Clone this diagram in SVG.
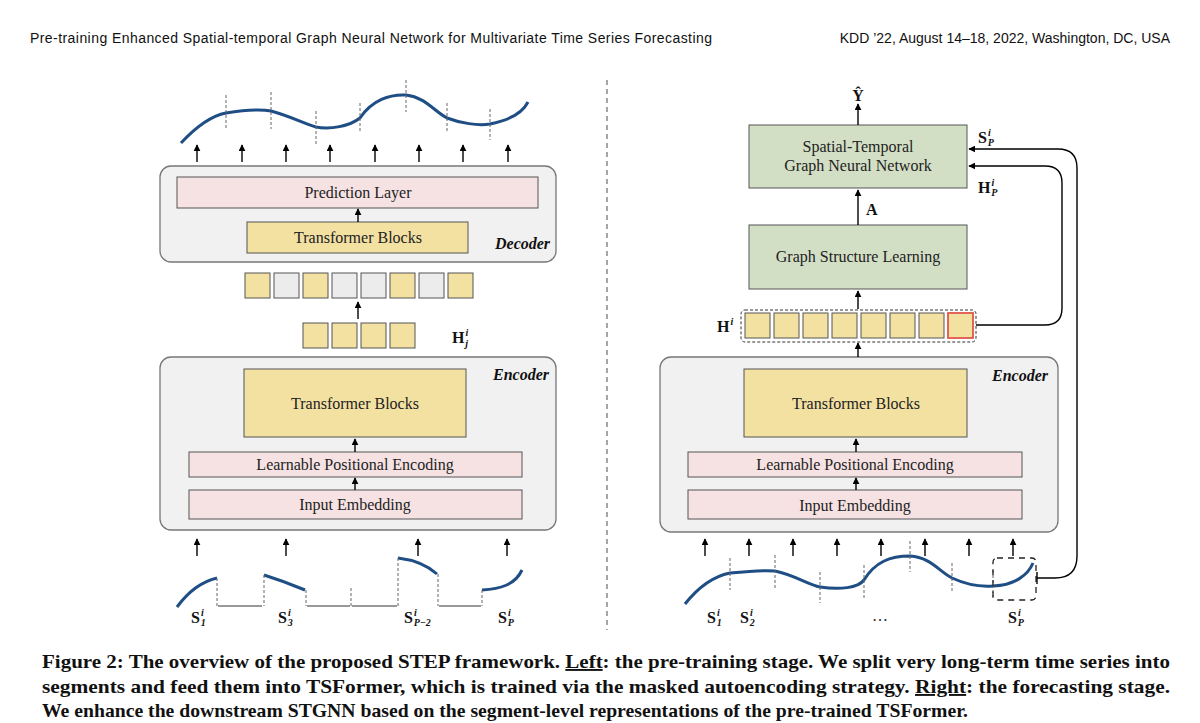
<svg xmlns="http://www.w3.org/2000/svg" width="1200" height="723" viewBox="0 0 1200 723">
<defs>
<marker id="ah" viewBox="0 0 10 10" refX="9" refY="5" markerWidth="7" markerHeight="7" markerUnits="userSpaceOnUse" orient="auto"><path d="M0,0 L10,5 L0,10 z" fill="#000"/></marker>
<style>
.t{font-family:"Liberation Serif","DejaVu Serif",serif;font-size:16px;fill:#222;text-anchor:middle}
.lab{font-family:"Liberation Serif","DejaVu Serif",serif;font-weight:bold;font-size:16px;fill:#111}
.sub{font-size:10px;font-style:italic}
.ed{font-family:"Liberation Serif",serif;font-weight:bold;font-style:italic;font-size:16px;fill:#111}
.hdr{font-family:"Liberation Sans","DejaVu Sans",sans-serif;font-size:14px;fill:#111}
.cap{font-family:"Liberation Serif","DejaVu Serif",serif;font-weight:bold;font-size:19px;fill:#111}
.outer{fill:#f1f1f1;stroke:#777;stroke-width:1.3}
.pink{fill:#f6e2e3;stroke:#555;stroke-width:1}
.yel{fill:#f3e1a2;stroke:#555;stroke-width:1}
.gry{fill:#ececec;stroke:#555;stroke-width:1}
.grn{fill:#d3dfc5;stroke:#555;stroke-width:1}
.ar{stroke:#000;stroke-width:1.4;fill:none;marker-end:url(#ah)}
.wave{fill:none;stroke:#1f4e85;stroke-width:3}
.vd{stroke:#666;stroke-width:1;stroke-dasharray:3,2}
.flat{stroke:#777;stroke-width:1.5}
</style>
</defs>
<text class="hdr" x="30" y="43" textLength="682">Pre-training Enhanced Spatial-temporal Graph Neural Network for Multivariate Time Series Forecasting</text>
<text class="hdr" x="1170" y="43" text-anchor="end">KDD ’22, August 14–18, 2022, Washington, DC, USA</text>
<line x1="607" y1="80" x2="607" y2="630" stroke="#777" stroke-dasharray="5,4" stroke-width="1.3"/>

<!-- LEFT -->
<g id="left-output-wave">
<path class="wave" d="M181,143 C195,128 210,116 226,113 C245,110 260,109 271,111 C290,116 305,124 316,127 C330,130 350,126 360,118 C372,100 390,94 406,95 C425,97 435,112 447,118 C460,123 478,126 490,124 C510,120 523,112 528,102"/>
<g class="vd"><line x1="226" y1="95" x2="226" y2="129"/><line x1="271" y1="92" x2="271" y2="129"/><line x1="316" y1="111" x2="316" y2="145"/><line x1="360" y1="103" x2="360" y2="133"/><line x1="406" y1="80" x2="406" y2="112"/><line x1="447" y1="103" x2="447" y2="133"/><line x1="490" y1="109" x2="490" y2="140"/></g>
</g>
<g id="left-decoder">
<rect class="outer" x="160" y="166" width="396" height="96" rx="11"/>
<rect class="pink" x="177" y="177" width="361" height="31"/>
<text class="t" x="358" y="198">Prediction Layer</text>
<rect class="yel" x="247" y="222" width="221" height="31"/>
<text class="t" x="358" y="243">Transformer Blocks</text>
<text class="ed" x="495" y="249">Decoder</text>
</g>
<g id="left-full-tokens">
<rect class="yel" x="245" y="273" width="25" height="25"/><rect class="gry" x="274" y="273" width="25" height="25"/><rect class="yel" x="303" y="273" width="25" height="25"/><rect class="gry" x="332" y="273" width="25" height="25"/><rect class="gry" x="361" y="273" width="25" height="25"/><rect class="yel" x="390" y="273" width="25" height="25"/><rect class="gry" x="419" y="273" width="25" height="25"/><rect class="yel" x="448" y="273" width="25" height="25"/>
</g>
<g id="left-Hj">
<rect class="yel" x="303" y="323" width="25" height="25"/><rect class="yel" x="332" y="323" width="25" height="25"/><rect class="yel" x="361" y="323" width="25" height="25"/><rect class="yel" x="390" y="323" width="25" height="25"/>
<text class="lab" x="452" y="343">H<tspan class="sub" dx="1" dy="-7">i</tspan><tspan class="sub" dx="-3" dy="11">j</tspan></text>
</g>
<g id="left-encoder">
<rect class="outer" x="160" y="357" width="396" height="173" rx="11"/>
<text class="ed" x="493" y="380">Encoder</text>
<rect class="yel" x="244" y="369" width="222" height="68"/>
<text class="t" x="355" y="409">Transformer Blocks</text>
<rect class="pink" x="189" y="452" width="333" height="25"/>
<text class="t" x="355" y="470">Learnable Positional Encoding</text>
<rect class="pink" x="189" y="490" width="333" height="29"/>
<text class="t" x="355" y="510">Input Embedding</text>
</g>
<g id="left-input-segments">
<path class="wave" d="M177,607 C188,592 200,582 217,578"/>
<path class="wave" d="M264,575 C280,580 293,585 305,590"/>
<path class="wave" d="M398,558 C415,560 428,566 437,574"/>
<path class="wave" d="M482,590 C500,589 515,585 522,570"/>
<g class="vd"><line x1="217" y1="578" x2="217" y2="606"/><line x1="264" y1="575" x2="264" y2="606"/><line x1="306" y1="590" x2="306" y2="606"/><line x1="351" y1="588" x2="351" y2="606"/><line x1="398" y1="558" x2="398" y2="606"/><line x1="438" y1="574" x2="438" y2="606"/><line x1="482" y1="590" x2="482" y2="606"/></g>
<g class="flat"><line x1="218" y1="606" x2="262" y2="606"/><line x1="307" y1="606" x2="350" y2="606"/><line x1="352" y1="606" x2="397" y2="606"/><line x1="439" y1="606" x2="481" y2="606"/></g>
<text class="lab" x="191" y="623">S<tspan class="sub" dx="1" dy="-7">i</tspan><tspan class="sub" dx="-3" dy="10">1</tspan></text>
<text class="lab" x="278" y="623">S<tspan class="sub" dx="1" dy="-7">i</tspan><tspan class="sub" dx="-3" dy="10">3</tspan></text>
<text class="lab" x="404" y="623">S<tspan class="sub" dx="1" dy="-7">i</tspan><tspan class="sub" dx="-3" dy="10">P−2</tspan></text>
<text class="lab" x="498" y="623">S<tspan class="sub" dx="1" dy="-7">i</tspan><tspan class="sub" dx="-3" dy="10">P</tspan></text>
</g>

<!-- RIGHT -->
<g id="right-stgnn">
<rect class="grn" x="749" y="125" width="218" height="63"/>
<text class="t" x="858" y="152">Spatial-Temporal</text>
<text class="t" x="858" y="171">Graph Neural Network</text>
</g>
<text class="lab" x="858" y="101" text-anchor="middle" font-size="18">Ŷ</text>
<g id="right-gsl">
<rect class="grn" x="749" y="225" width="218" height="64"/>
<text class="t" x="858" y="262">Graph Structure Learning</text>
</g>
<text class="lab" x="866" y="215">A</text>
<g id="right-Hi">
<rect x="741" y="310" width="235" height="32" rx="4" fill="none" stroke="#333" stroke-dasharray="3,2"/>
<rect class="yel" x="745" y="313" width="25" height="25"/><rect class="yel" x="774" y="313" width="25" height="25"/><rect class="yel" x="803" y="313" width="25" height="25"/><rect class="yel" x="832" y="313" width="25" height="25"/><rect class="yel" x="861" y="313" width="25" height="25"/><rect class="yel" x="890" y="313" width="25" height="25"/><rect class="yel" x="919" y="313" width="25" height="25"/><rect x="948" y="313" width="25" height="25" fill="#f3e1a2" stroke="#e0574a" stroke-width="1.8"/>
<text class="lab" x="717" y="332">H<tspan class="sub" dx="1" dy="-7">i</tspan></text>
</g>
<g id="right-encoder">
<rect class="outer" x="660" y="357" width="398" height="175" rx="11"/>
<text class="ed" x="992" y="381">Encoder</text>
<rect class="yel" x="744" y="369" width="223" height="68"/>
<text class="t" x="856" y="409">Transformer Blocks</text>
<rect class="pink" x="688" y="452" width="334" height="25"/>
<text class="t" x="855" y="470">Learnable Positional Encoding</text>
<rect class="pink" x="688" y="490" width="334" height="29"/>
<text class="t" x="855" y="511">Input Embedding</text>
</g>
<g id="right-input-wave">
<path class="wave" d="M685,604 C700,585 715,576 730,573 C750,571 765,570 775,571 C795,575 808,585 820,587 C840,590 858,588 864,580 C875,562 890,556 910,556 C930,557 940,572 952,578 C965,584 980,587 993,586 C1015,585 1028,575 1033,563"/>
<g class="vd"><line x1="730" y1="558" x2="730" y2="590"/><line x1="775" y1="555" x2="775" y2="590"/><line x1="820" y1="572" x2="820" y2="603"/><line x1="864" y1="565" x2="864" y2="598"/><line x1="910" y1="541" x2="910" y2="572"/><line x1="952" y1="563" x2="952" y2="593"/><line x1="993" y1="570" x2="993" y2="600"/></g>
<rect x="993" y="558" width="43" height="42" rx="4" fill="none" stroke="#222" stroke-width="1.3" stroke-dasharray="6,5"/>
<text class="lab" x="707" y="623">S<tspan class="sub" dx="1" dy="-7">i</tspan><tspan class="sub" dx="-3" dy="10">1</tspan></text>
<text class="lab" x="740" y="623">S<tspan class="sub" dx="1" dy="-7">i</tspan><tspan class="sub" dx="-3" dy="10">2</tspan></text>
<text class="t" x="880" y="621">…</text>
<text class="lab" x="1008" y="623">S<tspan class="sub" dx="1" dy="-7">i</tspan><tspan class="sub" dx="-3" dy="10">P</tspan></text>
</g>
<text class="lab" x="978" y="143">S<tspan class="sub" dx="1" dy="-7">i</tspan><tspan class="sub" dx="-3" dy="10">P</tspan></text>
<text class="lab" x="978" y="193">H<tspan class="sub" dx="1" dy="-7">i</tspan><tspan class="sub" dx="-3" dy="10">P</tspan></text>

<g id="connectors">
<!-- left output arrows -->
<line class="ar" x1="197" y1="162" x2="197" y2="145"/><line class="ar" x1="242" y1="162" x2="242" y2="145"/><line class="ar" x1="286" y1="162" x2="286" y2="145"/><line class="ar" x1="330" y1="162" x2="330" y2="145"/><line class="ar" x1="375" y1="162" x2="375" y2="145"/><line class="ar" x1="419" y1="162" x2="419" y2="145"/><line class="ar" x1="463" y1="162" x2="463" y2="145"/><line class="ar" x1="508" y1="162" x2="508" y2="145"/>
<line class="ar" x1="358" y1="222" x2="358" y2="209"/>
<line class="ar" x1="358" y1="319" x2="358" y2="302" stroke-width="2"/>
<line class="ar" x1="355" y1="452" x2="355" y2="439"/>
<line class="ar" x1="355" y1="490" x2="355" y2="478"/>
<line class="ar" x1="197" y1="556" x2="197" y2="539"/><line class="ar" x1="286" y1="556" x2="286" y2="539"/><line class="ar" x1="418" y1="556" x2="418" y2="539"/><line class="ar" x1="507" y1="556" x2="507" y2="539"/>
<!-- right -->
<line class="ar" x1="858" y1="125" x2="858" y2="104"/>
<line class="ar" x1="858" y1="225" x2="858" y2="190"/>
<line class="ar" x1="858" y1="309" x2="858" y2="291"/>
<line class="ar" x1="858" y1="357" x2="858" y2="343"/>
<line class="ar" x1="856" y1="452" x2="856" y2="439"/>
<line class="ar" x1="856" y1="490" x2="856" y2="478"/>
<line class="ar" x1="705" y1="556" x2="705" y2="539"/><line class="ar" x1="749" y1="556" x2="749" y2="539"/><line class="ar" x1="793" y1="556" x2="793" y2="539"/><line class="ar" x1="837" y1="556" x2="837" y2="539"/><line class="ar" x1="881" y1="556" x2="881" y2="539"/><line class="ar" x1="925" y1="556" x2="925" y2="539"/><line class="ar" x1="969" y1="556" x2="969" y2="539"/><line class="ar" x1="1013" y1="556" x2="1013" y2="539"/>
<path class="ar" d="M976,325 L1045,325 Q1062,325 1062,308 L1062,183 Q1062,166 1045,166 L969,166"/>
<path class="ar" d="M1037,578 L1055,578 Q1077,578 1077,556 L1077,168 Q1077,149 1058,149 L969,149"/>
<line x1="1037" y1="572" x2="1037" y2="584" stroke="#000" stroke-width="1.4"/>
</g>

<g id="caption">
<text class="cap" x="42" y="668" textLength="1128" lengthAdjust="spacingAndGlyphs">Figure 2: The overview of the proposed STEP framework. <tspan text-decoration="underline">Left</tspan>: the pre-training stage. We split very long-term time series into</text>
<text class="cap" x="42" y="693" textLength="1128" lengthAdjust="spacingAndGlyphs">segments and feed them into TSFormer, which is trained via the masked autoencoding strategy. <tspan text-decoration="underline">Right</tspan>: the forecasting stage.</text>
<text class="cap" x="42" y="717" textLength="926" lengthAdjust="spacingAndGlyphs">We enhance the downstream STGNN based on the segment-level representations of the pre-trained TSFormer.</text>
</g>
</svg>
